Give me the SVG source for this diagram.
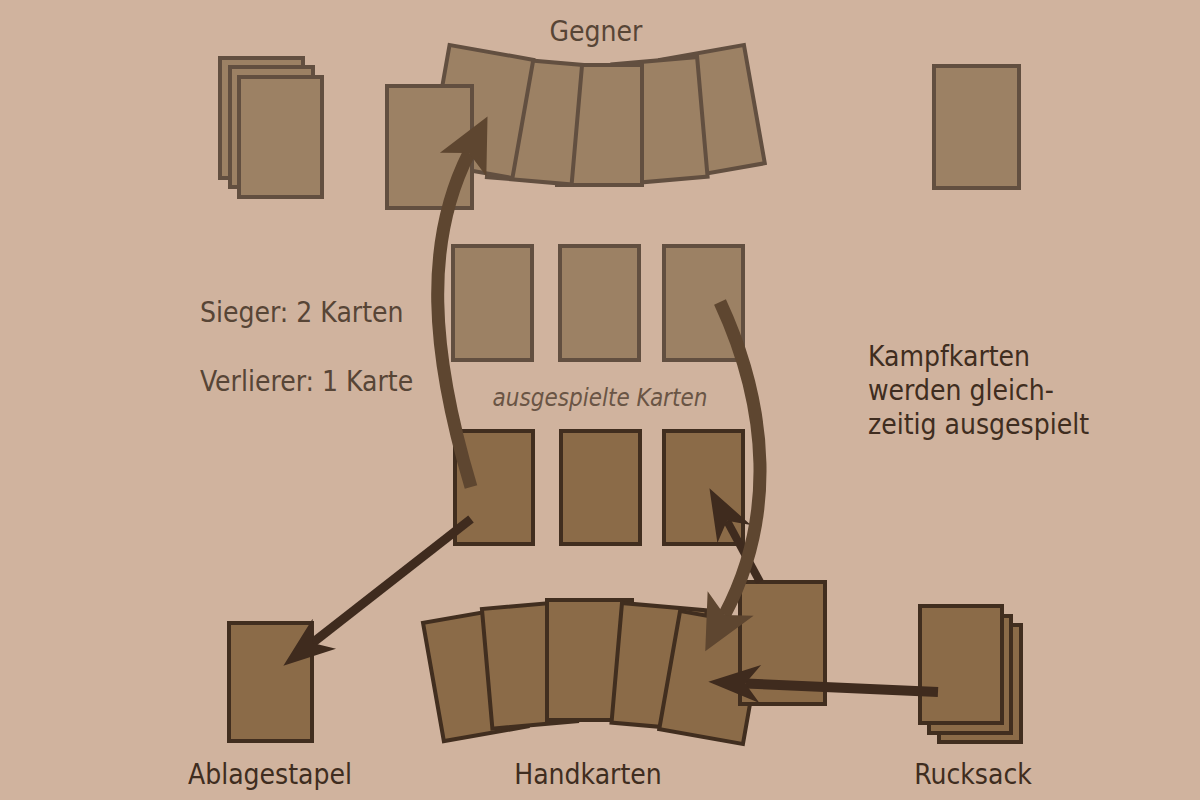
<svg xmlns="http://www.w3.org/2000/svg" width="1200" height="800" viewBox="0 0 1200 800">
<style>
.bg{fill:#d0b39e}
.opp{fill:#9c8164;stroke:#624f40;stroke-width:4}
.mine{fill:#8b6b48;stroke:#412e1f;stroke-width:4}
.t{font-family:"DejaVu Sans Condensed","DejaVu Sans",sans-serif;font-stretch:condensed;font-size:28px}
.light{fill:#574536}
.dark{fill:#3f2d20}
.it{font-style:italic;font-size:24px;fill:#6a5545}
.mid{text-anchor:middle}
.ca{fill:none;stroke:#5e4630;stroke-width:13}
.da{fill:none;stroke:#3f2b1e}
</style>
<defs>
<marker id="hb" markerUnits="userSpaceOnUse" viewBox="0 -26 54 52" markerWidth="54" markerHeight="52" refX="13" refY="0" orient="auto" overflow="visible">
<path d="M0,-26 L54,0 L0,26 L13,0 Z" fill="#5e4630"/>
</marker>
<marker id="hd" markerUnits="userSpaceOnUse" viewBox="0 -19 52 38" markerWidth="52" markerHeight="38" refX="15" refY="0" orient="auto" overflow="visible">
<path d="M0,-19 L52,0 L0,19 L15,0 Z" fill="#3f2b1e"/>
</marker>
</defs>
<rect class="bg" x="0" y="0" width="1200" height="800"/>

<g id="opp-deck">
<rect class="opp" x="220" y="58" width="83" height="120"/>
<rect class="opp" x="230" y="67" width="83" height="120"/>
<rect class="opp" x="239" y="77" width="83" height="120"/>
</g>

<g id="opp-hand">
<rect class="opp" x="-42.5" y="-60" width="85" height="120" transform="translate(712.5,111.5) rotate(-10)"/>
<rect class="opp" x="-42.5" y="-60" width="85" height="120" transform="translate(660,120.5) rotate(-5)"/>
<rect class="opp" x="-42.5" y="-60" width="85" height="120" transform="translate(599.5,125)"/>
<rect class="opp" x="-42.5" y="-60" width="85" height="120" transform="translate(534.5,121) rotate(5)"/>
<rect class="opp" x="-42.5" y="-60" width="85" height="120" transform="translate(481,111.5) rotate(10)"/>
</g>

<g id="opp-discard">
<rect class="opp" x="387" y="86" width="85" height="122"/>
</g>

<g id="opp-rucksack">
<rect class="opp" x="934" y="66" width="85" height="122"/>
</g>

<g id="opp-played">
<rect class="opp" x="453" y="246" width="79" height="114"/>
<rect class="opp" x="560" y="246" width="79" height="114"/>
<rect class="opp" x="664" y="246" width="79" height="114"/>
</g>

<g id="my-played">
<rect class="mine" x="455" y="431" width="78" height="113"/>
<rect class="mine" x="561" y="431" width="79" height="113"/>
<rect class="mine" x="664" y="431" width="79" height="113"/>
</g>

<g id="ablage">
<rect class="mine" x="229" y="623" width="83" height="118"/>
</g>

<g id="hand">
<rect class="mine" x="-42.5" y="-60" width="85" height="120" transform="translate(475.3,674.7) rotate(-10)"/>
<rect class="mine" x="-42.5" y="-60" width="85" height="120" transform="translate(529.5,665.1) rotate(-5)"/>
<rect class="mine" x="-42.5" y="-60" width="85" height="120" transform="translate(589.5,660)"/>
<rect class="mine" x="-42.5" y="-60" width="85" height="120" transform="translate(659.1,666.5) rotate(5)"/>
<rect class="mine" x="-42.5" y="-60" width="85" height="120" transform="translate(711.5,677.5) rotate(10)"/>
</g>

<g id="drawn-card">
<rect class="mine" x="740" y="582" width="85" height="122"/>
</g>

<g id="rucksack">
<rect class="mine" x="939" y="625" width="82" height="117"/>
<rect class="mine" x="929" y="616" width="82" height="117"/>
<rect class="mine" x="920" y="606" width="82" height="117"/>
</g>

<g id="connectors">
<path class="ca" d="M471,487 C430,350 424,242 469,153" marker-end="url(#hb)"/>
<line class="da" x1="760" y1="582" x2="727" y2="520.8" stroke-width="8" marker-end="url(#hd)"/>
<path class="ca" d="M720,302 C770,410 775,520 724.5,615" marker-end="url(#hb)"/>
<line class="da" x1="471" y1="519" x2="312.5" y2="642.9" stroke-width="9" marker-end="url(#hd)"/>
<line class="da" x1="938" y1="692" x2="745.3" y2="683.4" stroke-width="10" marker-end="url(#hd)"/>
</g>

<g id="labels">
<text class="t light mid" x="596" y="41">Gegner</text>
<text class="t light" x="200" y="322">Sieger: 2 Karten</text>
<text class="t light" x="200" y="391">Verlierer: 1 Karte</text>
<text class="t it mid" x="600" y="406">ausgespielte Karten</text>
<text class="t dark" x="868" y="366">Kampfkarten</text>
<text class="t dark" x="868" y="400">werden gleich-</text>
<text class="t dark" x="868" y="434">zeitig ausgespielt</text>
<text class="t dark mid" x="270" y="784">Ablagestapel</text>
<text class="t dark mid" x="588" y="784">Handkarten</text>
<text class="t dark mid" x="973" y="784">Rucksack</text>
</g>
</svg>
